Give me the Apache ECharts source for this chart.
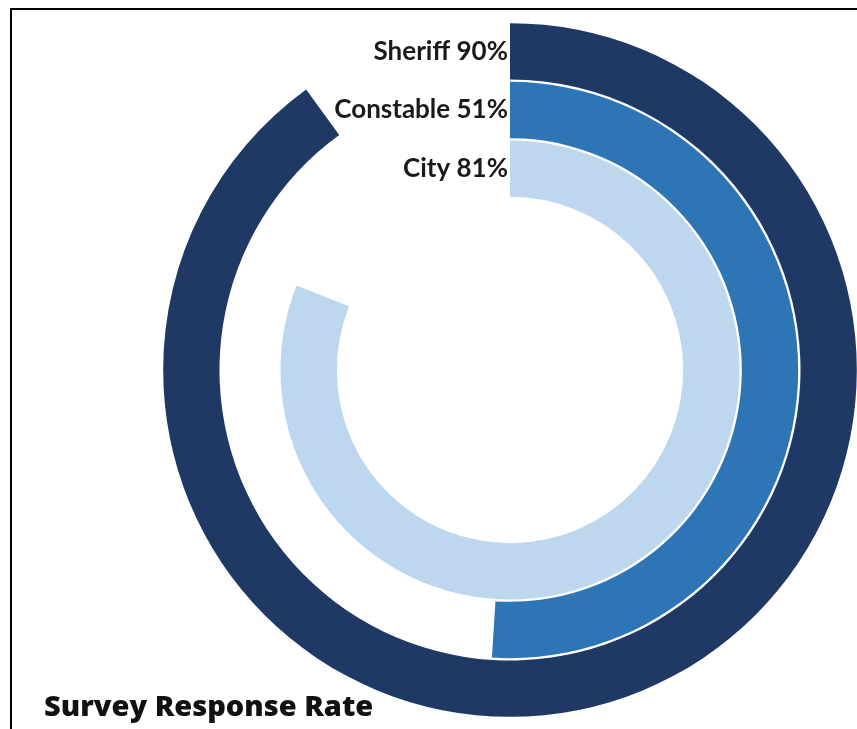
<!DOCTYPE html>
<html>
<head>
<meta charset="utf-8">
<script src="https://cdn.jsdelivr.net/npm/echarts@6/dist/echarts.min.js"></script>
<style>
  html, body { margin: 0; padding: 0; background: #fff; overflow: hidden; }
  #chart { position: absolute; left: 0; top: 0; width: 857px; height: 729px; }
  #frame { position: absolute; left: 10px; top: 8px; width: 2000px; height: 2000px;
           border-left: 2px solid #000; border-top: 2px solid #000; pointer-events: none; }
</style>
</head>
<body>
<div id="chart"></div>
<div id="frame"></div>
<script>
// Data (inner ring to outer ring)
const categories = ['City', 'Constable', 'Sheriff'];
const responseRates = [81, 51, 90];
const ringColors = ['#BDD7EE', '#2E75B6', '#1F3864'];
const titleText = 'Survey Response Rate';

const chart = echarts.init(document.getElementById('chart'), null, { renderer: 'canvas' });

chart.setOption({
  backgroundColor: 'transparent',
  animation: false,
  title: {
    text: titleText,
    left: 39,
    top: 688,
    textStyle: { fontFamily: 'Open Sans', fontWeight: 800, fontSize: 29, color: '#111' }
  },
  polar: {
    center: [510, 370],
    radius: [172, 348]
  },
  angleAxis: {
    type: 'value',
    min: 0,
    max: 100,
    startAngle: 90,
    clockwise: true,
    show: false
  },
  radiusAxis: {
    type: 'category',
    data: categories,
    axisLine: { show: false },
    axisTick: { show: false },
    splitLine: { show: false },
    axisLabel: {
      interval: 0,
      hideOverlap: false,
      margin: 2,
      fontFamily: 'Lato',
      fontWeight: 'bold',
      fontSize: 26,
      color: '#1a1a1a',
      formatter: function (v, i) { return v + ' ' + responseRates[i] + '%'; }
    }
  },
  series: [{
    type: 'bar',
    coordinateSystem: 'polar',
    barCategoryGap: '4%',
    data: responseRates.map(function (v, i) {
      return { value: v, itemStyle: { color: ringColors[i] } };
    }),
    itemStyle: { borderWidth: 0 },
    emphasis: { disabled: true }
  }]
});
</script>
</body>
</html>
